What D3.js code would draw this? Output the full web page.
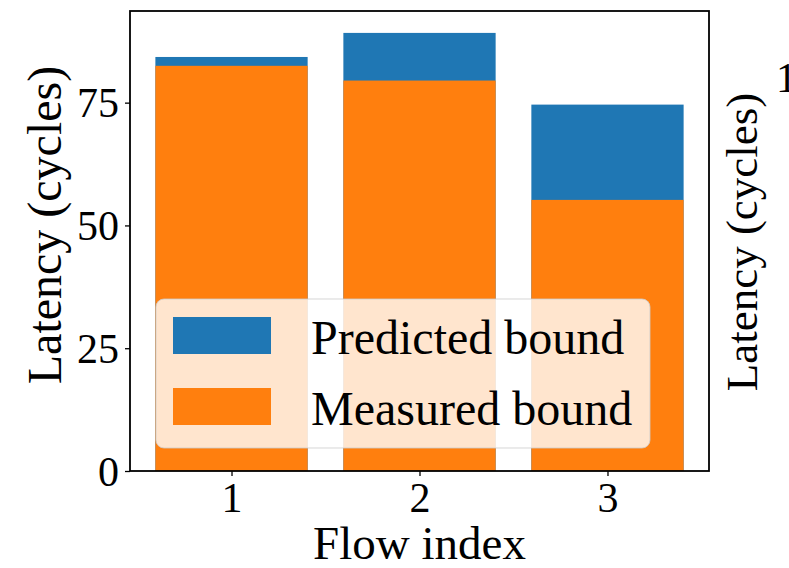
<!DOCTYPE html>
<html>
<head>
<meta charset="utf-8">
<script src="https://cdn.jsdelivr.net/npm/d3@7"></script>
<style>
  body { margin: 0; background: #fff; }
  svg { display: block; }
  text { font-family: "Liberation Serif", "DejaVu Serif", serif; fill: #000; }
</style>
</head>
<body>
<svg id="chart" width="789" height="568"></svg>
<script>
// values
var flows = [1, 2, 3];
var predicted = [84.3, 89.2, 74.6];
var measured = [82.5, 79.5, 55.2];
var yTicks = [0, 25, 50, 75];
var seriesNames = ["Predicted bound", "Measured bound"];
var colors = ["#1f77b4", "#ff7f0e"];

var svg = d3.select("#chart");
var plotL = 130, plotR = 709, plotT = 11, plotB = 471;
var barW = 0.81;

var x = d3.scaleLinear().domain([0.46, 3.54]).range([plotL, plotR]);
var y = d3.scaleLinear().domain([0, d3.max(predicted) * 1.05]).range([plotB, plotT]);

var plot = svg.append("g");

// predicted first, measured drawn over it
[predicted, measured].forEach(function(vals, i) {
	plot.selectAll(".bar" + i).data(vals).enter().append("rect")
		.attr("class", "bar" + i)
		.attr("x", function(d, j) { return x(flows[j] - barW / 2); })
		.attr("width", x(barW) - x(0))
		.attr("y", function(d) { return y(d); })
		.attr("height", function(d) { return y(0) - y(d); })
		.attr("fill", colors[i]);
});

// axes
var yAxis = svg.append("g")
	.attr("transform", "translate(" + plotL + ",0)")
	.call(d3.axisLeft(y).tickValues(yTicks).tickSize(5).tickPadding(6));
var xAxis = svg.append("g")
	.attr("transform", "translate(0," + plotB + ")")
	.call(d3.axisBottom(x).tickValues(flows).tickFormat(d3.format("d")).tickSize(5).tickPadding(6));

[yAxis, xAxis].forEach(function(a) {
	a.select(".domain").remove();
	a.selectAll("line").attr("stroke", "#000").attr("stroke-width", 1.3);
	a.selectAll("text").style("font-size", "42px").attr("fill", "#000");
});
yAxis.selectAll("text").attr("dy", "0.34em");
xAxis.selectAll("text").attr("dy", "0.72em");

// frame
svg.append("rect")
	.attr("x", plotL).attr("y", plotT)
	.attr("width", plotR - plotL).attr("height", plotB - plotT)
	.attr("fill", "none").attr("stroke", "#000").attr("stroke-width", 1.8);

// axis labels
svg.append("text")
	.attr("transform", "translate(61," + 225 + ") rotate(-90)")
	.attr("text-anchor", "middle")
	.style("font-size", "48px")
	.text("Latency (cycles)");

svg.append("text")
	.attr("x", (plotL + plotR) / 2).attr("y", 559)
	.attr("text-anchor", "middle")
	.style("font-size", "47px")
	.text("Flow index");

// neighbouring panel, clipped at the edge
svg.append("text")
	.attr("transform", "translate(757,242) rotate(-90)")
	.attr("text-anchor", "middle")
	.style("font-size", "45px")
	.text("Latency (cycles)");
svg.append("text")
	.attr("x", 776).attr("y", 92)
	.style("font-size", "42px")
	.text("100");

// legend
var leg = svg.append("g");
leg.append("rect")
	.attr("x", 156).attr("y", 299)
	.attr("width", 494).attr("height", 149)
	.attr("rx", 8).attr("ry", 8)
	.attr("fill", "#fff").attr("fill-opacity", 0.8)
	.attr("stroke", "#ccc").attr("stroke-opacity", 0.8);

var items = leg.selectAll(".item").data(seriesNames).enter().append("g")
	.attr("class", "item")
	.attr("transform", function(d, i) { return "translate(0," + (i * 71) + ")"; });
items.append("rect")
	.attr("x", 173).attr("y", 317)
	.attr("width", 98).attr("height", 37)
	.attr("fill", function(d, i) { return colors[i]; });
items.append("text")
	.attr("x", 311).attr("y", 354)
	.style("font-size", "48px")
	.text(function(d) { return d; });
</script>
</body>
</html>
